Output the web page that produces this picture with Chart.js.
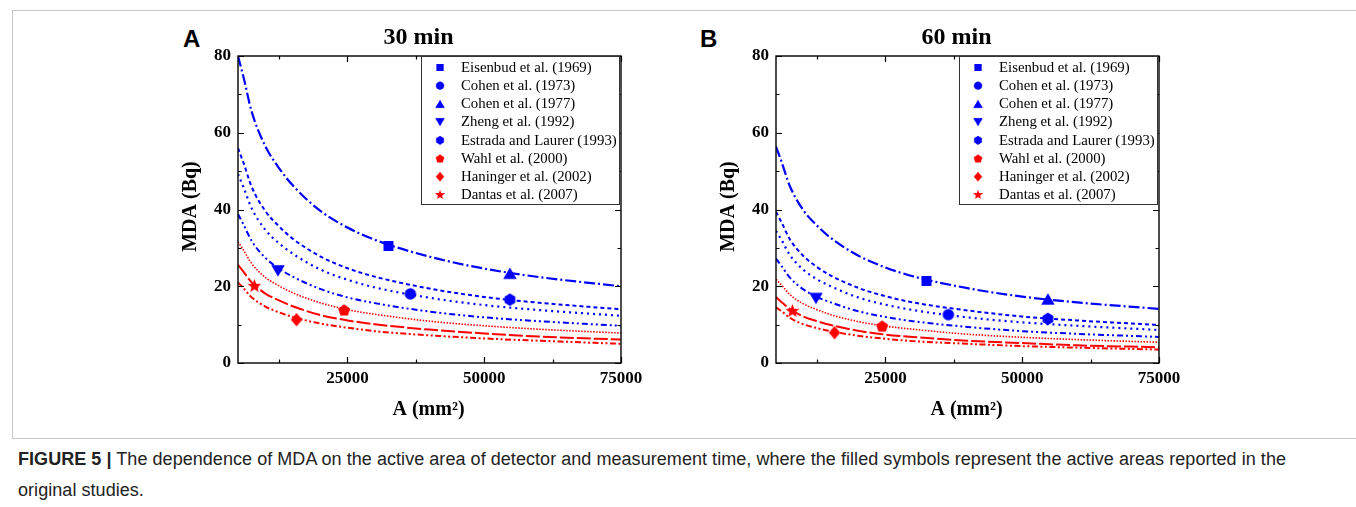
<!DOCTYPE html>
<html>
<head>
<meta charset="utf-8">
<script src="https://cdn.jsdelivr.net/npm/chart.js@4.4.1/dist/chart.umd.min.js"></script>
<style>
  body { margin: 0; width: 1356px; height: 507px; background: #fff; position: relative; overflow: hidden; font-family: "Liberation Sans", Arial, sans-serif; }
  #frame { position: absolute; left: 12px; top: 10px; width: 1350px; height: 427px; border: 1px solid #c8c8c8; border-right: none; }
  .panel { position: absolute; top: 0; }
  #panelA { left: 150px; }
  #panelB { left: 688px; }
  .letter { position: absolute; top: 25px; font: bold 24px "Liberation Sans", Arial, sans-serif; color: #000; }
  #caption { position: absolute; left: 18px; top: 444px; width: 1300px; font-size: 18px; line-height: 31px; color: #222; letter-spacing: 0.05px; }
</style>
</head>
<body>
<div id="frame"></div>
<div class="letter" style="left:183px">A</div>
<div class="letter" style="left:700px">B</div>
<canvas id="panelA" class="panel" width="520" height="430"></canvas>
<canvas id="panelB" class="panel" width="520" height="430"></canvas>
<div id="caption"><b>FIGURE 5 |</b> The dependence of MDA on the active area of detector and measurement time, where the filled symbols represent the active areas reported in the original studies.</div>
<script>
// Dati: area attiva (mm²) e MDA (Bq)
const areaGrid = [5000, 6000, 7500, 10000, 12500, 15000, 20000, 25000, 30000, 40000, 50000, 60000, 75000];

// 30 min
const eisenbud30 = [80, 74.5, 65.5, 56.5, 50.8, 46.3, 39.7, 35.3, 32.1, 27.7, 24.6, 22.4, 20.0];
const estrada30 = [56, 52.2, 45.9, 39.6, 35.6, 32.4, 27.8, 24.7, 22.5, 19.4, 17.2, 15.7, 14.0];
const cohen73_30 = [49.2, 45.8, 40.3, 34.7, 31.2, 28.5, 24.4, 21.7, 19.7, 17.0, 15.1, 13.8, 12.3];
const zheng30 = [38.8, 36.1, 31.8, 27.4, 24.6, 22.5, 19.3, 17.1, 15.6, 13.4, 11.9, 10.9, 9.7];
const wahl30 = [31.6, 29.4, 25.9, 22.3, 20.1, 18.3, 15.7, 13.9, 12.7, 10.9, 9.7, 8.8, 7.8];
const dantas30 = [25.6, 23.8, 21.0, 18.1, 16.3, 14.8, 12.5, 11.1, 10.1, 8.7, 7.7, 6.9, 6.1];
const haninger30 = [21.0, 19.5, 17.1, 14.7, 13.2, 12.0, 10.3, 9.2, 8.3, 7.2, 6.4, 5.8, 5.0];

// 60 min
const eisenbud60 = [56.4, 52.5, 46.2, 39.8, 35.8, 32.6, 28.0, 24.9, 22.6, 19.5, 17.3, 15.8, 14.1];
const estrada60 = [39.4, 36.7, 32.3, 27.9, 25.0, 22.8, 19.6, 17.4, 15.8, 13.7, 12.1, 11.1, 9.9];
const cohen73_60 = [34.4, 32.1, 28.2, 24.3, 21.8, 20.0, 17.1, 15.2, 13.8, 11.9, 10.6, 9.7, 8.6];
const zheng60 = [27.2, 25.3, 22.3, 19.2, 17.2, 15.8, 13.5, 12.0, 10.9, 9.4, 8.3, 7.6, 6.8];
const wahl60 = [21.8, 20.3, 17.9, 15.4, 13.9, 12.6, 10.8, 9.6, 8.8, 7.5, 6.7, 6.1, 5.4];
const dantas60 = [17.2, 15.9, 14.1, 12.1, 10.9, 9.9, 8.4, 7.4, 6.8, 5.8, 5.2, 4.6, 4.1];
const haninger60 = [14.5, 13.5, 11.8, 10.1, 9.1, 8.3, 7.1, 6.3, 5.7, 5.0, 4.4, 4.0, 3.5];

// Studi (ordine della legenda) e simboli pieni
const studyNames = ["Eisenbud et al. (1969)", "Cohen et al. (1973)", "Cohen et al. (1977)", "Zheng et al. (1992)",
  "Estrada and Laurer (1993)", "Wahl et al. (2000)", "Haninger et al. (2002)", "Dantas et al. (2007)"];
const studyAreas = [32500, 36500, 54700, 12300, 54700, 24400, 15700, 8000];
const studyMda30 = [30.5, 18.0, 23.4, 24.0, 16.5, 13.8, 11.3, 20.0];
const studyMda60 = [21.4, 12.6, 16.7, 16.8, 11.5, 9.6, 7.9, 13.5];

const xMajor = [25000, 50000, 75000], xMinor = [12500, 37500, 62500];
const yMajor = [0, 20, 40, 60, 80], yMinor = [10, 30, 50, 70];

const blue = "#0000ff", red = "#ff0000", ink = "#000";
const serif = '"Liberation Serif", "Times New Roman", serif';

// Simboli come piccoli canvas
function polygon(g, cx, cy, r, n) {
  for (let i = 0; i < n; i++) {
    const a = -Math.PI / 2 + (i * 2 * Math.PI) / n;
    const px = cx + r * Math.cos(a), py = cy + r * Math.sin(a);
    i ? g.lineTo(px, py) : g.moveTo(px, py);
  }
}

function makeMarker(shape, color, size) {
  const c = document.createElement("canvas");
  c.width = c.height = Math.ceil(size) + 4;
  const g = c.getContext("2d"), m = c.width / 2, h = size / 2;
  g.fillStyle = color;
  g.beginPath();
  if (shape === "square") g.rect(m - h, m - h, size, size);
  else if (shape === "circle") g.arc(m, m, h, 0, Math.PI * 2);
  else if (shape === "triUp") { g.moveTo(m, m - 0.433 * size); g.lineTo(m + h, m + 0.433 * size); g.lineTo(m - h, m + 0.433 * size); }
  else if (shape === "triDown") { g.moveTo(m, m + 0.433 * size); g.lineTo(m + h, m - 0.433 * size); g.lineTo(m - h, m - 0.433 * size); }
  else if (shape === "hexagon") polygon(g, m, m, h * 1.04, 6);
  else if (shape === "pentagon") polygon(g, m, m + h * 0.08, h * 1.05, 5);
  else if (shape === "diamond") { g.moveTo(m, m - h); g.lineTo(m + h * 0.85, m); g.lineTo(m, m + h); g.lineTo(m - h * 0.85, m); }
  else if (shape === "star") {
    for (let i = 0; i < 10; i++) {
      const r = i % 2 ? h * 0.42 : h, a = -Math.PI / 2 + (i * Math.PI) / 5;
      i ? g.lineTo(m + r * Math.cos(a), m + r * Math.sin(a)) : g.moveTo(m + r * Math.cos(a), m + r * Math.sin(a));
    }
  }
  g.closePath();
  g.fill();
  return c;
}

const markerShapes = ["square", "circle", "triUp", "triDown", "hexagon", "pentagon", "diamond", "star"];
const markerColors = [blue, blue, blue, blue, blue, red, red, red];
const markerSizes = [10, 11.5, 13.5, 13.5, 12, 12, 13.5, 14.5];
const markers = markerShapes.map((s, i) => makeMarker(s, markerColors[i], markerSizes[i]));

// Stile delle curve
const curveStyles = [
  { color: blue, dash: [11, 3, 2, 3], width: 2.2 },
  { color: blue, dash: [4, 3], width: 2 },
  { color: blue, dash: [2, 4], width: 2.2 },
  { color: blue, dash: [6, 3, 2, 3, 2, 3], width: 2 },
  { color: red, dash: [1.5, 1.5], width: 1.6 },
  { color: red, dash: [14, 3], width: 2 },
  { color: red, dash: [6, 2.5, 2, 2.5, 2, 2.5], width: 2 },
];

function lineDataset(values, style) {
  return {
    type: "line",
    data: areaGrid.map((a, i) => ({ x: a, y: values[i] })),
    borderColor: style.color,
    borderWidth: style.width,
    borderDash: style.dash,
    pointRadius: 0,
    cubicInterpolationMode: "monotone",
    fill: false,
    order: 2,
  };
}

function markerDatasets(mdaValues) {
  return studyNames.map((name, i) => ({
    type: "scatter",
    label: name,
    data: [{ x: studyAreas[i], y: mdaValues[i] }],
    pointStyle: markers[i],
    pointRadius: 6,
    order: 1,
  }));
}

// Cornice, tacche interne, legenda e titoli
const panelDecor = {
  id: "panelDecor",
  afterDatasetsDraw(chart, args, opts) {
    const { ctx, chartArea: a, scales: { x, y } } = chart;
    ctx.save();
    ctx.strokeStyle = ink;
    ctx.lineWidth = 1.2;
    ctx.beginPath();
    const tickX = (v, len) => { const p = Math.round(x.getPixelForValue(v)) + 0.5; ctx.moveTo(p, a.bottom); ctx.lineTo(p, a.bottom - len); ctx.moveTo(p, a.top); ctx.lineTo(p, a.top + len); };
    const tickY = (v, len) => { const p = Math.round(y.getPixelForValue(v)) + 0.5; ctx.moveTo(a.left, p); ctx.lineTo(a.left + len, p); ctx.moveTo(a.right, p); ctx.lineTo(a.right - len, p); };
    xMajor.forEach(v => tickX(v, 6));
    xMinor.forEach(v => tickX(v, 3.5));
    yMajor.forEach(v => tickY(v, 6));
    yMinor.forEach(v => tickY(v, 3.5));
    ctx.stroke();
    ctx.lineWidth = 1.4;
    ctx.strokeRect(a.left, a.top, a.right - a.left, a.bottom - a.top);

    // legenda
    const bx = a.left + 183, by = a.top, bw = 198, bh = 148;
    ctx.fillStyle = "#fff";
    ctx.fillRect(bx, by, bw, bh);
    ctx.strokeStyle = "#333";
    ctx.lineWidth = 1;
    ctx.strokeRect(bx + 0.5, by + 0.5, bw, bh);
    ctx.font = "14.8px " + serif;
    ctx.textAlign = "left";
    ctx.textBaseline = "middle";
    ctx.fillStyle = ink;
    studyNames.forEach((name, i) => {
      const cy = by + 11.5 + i * 18.2, img = markers[i], k = 0.72;
      ctx.drawImage(img, bx + 19 - (img.width * k) / 2, cy - (img.height * k) / 2, img.width * k, img.height * k);
      ctx.fillText(name, bx + 40, cy + 0.5);
    });

    // titoli
    ctx.textAlign = "center";
    ctx.font = "bold 24px " + serif;
    ctx.fillText(opts.title, (a.left + a.right) / 2 - 11, 38);
    ctx.font = "bold 20px " + serif;
    ctx.fillText("A (mm²)", (a.left + a.right) / 2 - 1, 410);
    ctx.translate(41, (a.top + a.bottom) / 2 - 3);
    ctx.rotate(-Math.PI / 2);
    ctx.fillText("MDA (Bq)", 0, 0);
    ctx.restore();
  },
};

function buildPanel(id, title, curves, mdaValues) {
  const datasets = markerDatasets(mdaValues).concat(curves.map((c, i) => lineDataset(c, curveStyles[i])));
  const tickFont = { family: serif, size: 17, weight: "bold" };
  return new Chart(document.getElementById(id), {
    data: { datasets },
    plugins: [panelDecor],
    options: {
      responsive: false,
      animation: false,
      layout: { padding: { top: 56, right: 49, left: 0, bottom: 0 } },
      plugins: { legend: { display: false }, tooltip: { enabled: false }, panelDecor: { title } },
      scales: {
        x: {
          type: "linear", min: 5000, max: 75000,
          grid: { display: false, drawTicks: false },
          border: { display: false },
          ticks: { font: tickFont, color: ink, padding: 5, maxRotation: 0, callback: v => String(v) },
          afterBuildTicks: s => { s.ticks = xMajor.map(v => ({ value: v })); },
          afterFit: s => { s.height = 67; },
        },
        y: {
          type: "linear", min: 0, max: 80,
          grid: { display: false, drawTicks: false },
          border: { display: false },
          ticks: { font: tickFont, color: ink, padding: 7 },
          afterBuildTicks: s => { s.ticks = yMajor.map(v => ({ value: v })); },
          afterFit: s => { s.width = 88; },
        },
      },
    },
  });
}

buildPanel("panelA", "30 min", [eisenbud30, estrada30, cohen73_30, zheng30, wahl30, dantas30, haninger30], studyMda30);
buildPanel("panelB", "60 min", [eisenbud60, estrada60, cohen73_60, zheng60, wahl60, dantas60, haninger60], studyMda60);
</script>
</body>
</html>
